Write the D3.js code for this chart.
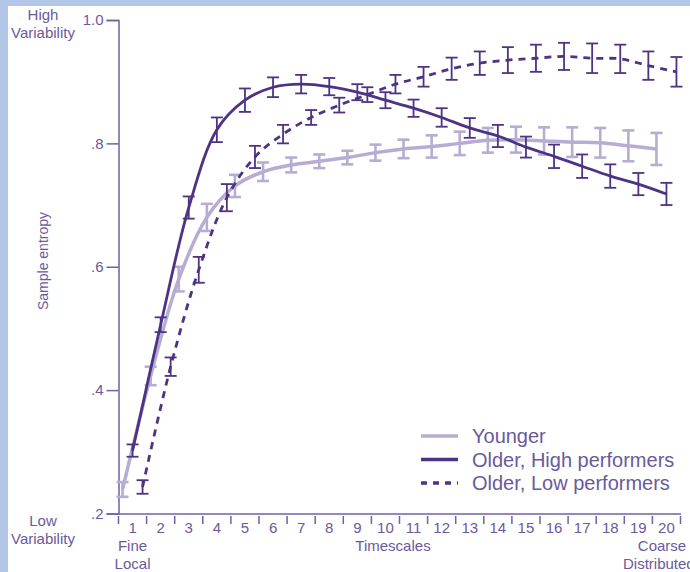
<!DOCTYPE html>
<html>
<head>
<meta charset="utf-8">
<script src="https://cdn.jsdelivr.net/npm/d3@7"></script>
<style>
  html, body { margin: 0; padding: 0; background: #fff; }
  svg { display: block; font-family: "Liberation Sans", Arial, sans-serif; }
</style>
</head>
<body>
<div id="chart"></div>
<script>
// timescales 1..20
const timescales = d3.range(1, 21);

// sample entropy
const younger = [0.239, 0.423, 0.580, 0.680, 0.731, 0.754, 0.765, 0.771, 0.777, 0.785,
                 0.791, 0.795, 0.800, 0.805, 0.806, 0.804, 0.802, 0.801, 0.796, 0.791];
const olderHigh = [0.302, 0.506, 0.696, 0.822, 0.870, 0.891, 0.896, 0.892, 0.883, 0.870,
                   0.857, 0.842, 0.825, 0.812, 0.794, 0.779, 0.763, 0.747, 0.734, 0.718];
const olderLow = [0.243, 0.438, 0.595, 0.712, 0.778, 0.815, 0.842, 0.862, 0.879, 0.896,
                  0.908, 0.921, 0.930, 0.935, 0.938, 0.941, 0.938, 0.937, 0.926, 0.916];

// half length of the error bars
const youngerErr = [0.012, 0.015, 0.020, 0.022, 0.018, 0.015, 0.012, 0.011, 0.011, 0.013,
                    0.015, 0.018, 0.019, 0.020, 0.021, 0.022, 0.024, 0.024, 0.025, 0.026];
const olderHighErr = [0.010, 0.012, 0.018, 0.020, 0.019, 0.016, 0.015, 0.014, 0.013, 0.013,
                      0.014, 0.015, 0.016, 0.018, 0.017, 0.019, 0.019, 0.019, 0.018, 0.018];
const olderLowErr = [0.011, 0.015, 0.021, 0.022, 0.018, 0.015, 0.012, 0.012, 0.012, 0.015,
                     0.016, 0.018, 0.019, 0.021, 0.022, 0.022, 0.024, 0.023, 0.023, 0.024];

const yTicks = [0.2, 0.4, 0.6, 0.8, 1.0];
const legendLabels = ['Younger', 'Older, High performers', 'Older, Low performers'];

const W = 690, H = 572;
const TEXT = '#6a5a9c';
const AXIS = '#7060a4';
const DARK = '#4e3384';
const LIGHT = '#b7acd2';

const series = [
  { name: legendLabels[0], values: younger, err: youngerErr, color: LIGHT, width: 3.5, dash: null, shift: -10 },
  { name: legendLabels[1], values: olderHigh, err: olderHighErr, color: DARK, width: 2.8, dash: null, shift: 0 },
  { name: legendLabels[2], values: olderLow, err: olderLowErr, color: DARK, width: 2.8, dash: '7,6', shift: 10 }
];

const svg = d3.select('#chart').append('svg')
  .attr('width', W).attr('height', H);

// page frame: pale blue strips at top and left
svg.append('rect').attr('width', W).attr('height', H).attr('fill', '#fff');
svg.append('rect').attr('width', W).attr('height', 6).attr('fill', '#b4c6e8');
svg.append('rect').attr('width', 8).attr('height', H).attr('fill', '#b4c6e8');

const x = d3.scaleBand().domain(timescales).range([118.5, 680.5]);
const y = d3.scaleLinear().domain([0.2, 1.0]).range([513.5, 20]);

// y axis
const yAxis = svg.append('g')
  .attr('transform', 'translate(118.5,0)')
  .call(d3.axisLeft(y).tickValues(yTicks).tickSize(12).tickPadding(3)
    .tickFormat(d => d === 1 ? '1.0' : d3.format('.1f')(d).replace(/^0/, '')));
yAxis.select('.domain').attr('stroke', AXIS).attr('stroke-width', 1.5);
yAxis.selectAll('.tick line').attr('stroke', AXIS).attr('stroke-width', 1.5);
yAxis.selectAll('.tick text').attr('fill', TEXT).style('font-size', '15px')
  .attr('font-family', '"Liberation Sans", Arial, sans-serif');

// x axis: labels centred in each band, ticks on the band edges
const xAxis = svg.append('g')
  .attr('transform', 'translate(0,513.5)')
  .call(d3.axisBottom(x).tickSize(0).tickPadding(9));
xAxis.select('.domain').attr('stroke', AXIS).attr('stroke-width', 1.5);
xAxis.selectAll('.tick text').attr('fill', TEXT).style('font-size', '15px')
  .attr('font-family', '"Liberation Sans", Arial, sans-serif');

const edges = timescales.map(d => x(d)).concat([x(20) + x.bandwidth()]);
svg.append('g').selectAll('line').data(edges).join('line')
  .attr('x1', d => d).attr('x2', d => d)
  .attr('y1', 516).attr('y2', 524)
  .attr('stroke', AXIS).attr('stroke-width', 1.5);

// axis captions
const caption = (txt, cx, cy, size, anchor = 'middle') =>
  svg.append('text').attr('x', cx).attr('y', cy).attr('text-anchor', anchor)
    .attr('fill', TEXT).style('font-size', size + 'px').text(txt);

caption('High', 43, 20, 15);
caption('Variability', 43, 38, 15);
caption('Low', 43, 526, 15);
caption('Variability', 43, 544, 15);
caption('Fine', x(1) + x.bandwidth() / 2, 551, 15);
caption('Local', x(1) + x.bandwidth() / 2, 569, 15);
caption('Timescales', 393, 551, 15);
caption('Coarse', 662, 551, 15);
caption('Distributed', 623, 569, 15, 'start');

svg.append('text')
  .attr('transform', 'translate(48,261) rotate(-90)')
  .attr('text-anchor', 'middle')
  .attr('fill', TEXT).style('font-size', '14px')
  .text('Sample entropy');

const px = (s, i) => x(timescales[i]) + x.bandwidth() / 2 + s.shift;

const line = (s) => d3.line()
  .x((d, i) => px(s, i))
  .y(d => y(d))
  .curve(d3.curveCatmullRom.alpha(0.5));

// draw in the picture's order: younger beneath
series.forEach(s => {
  const g = svg.append('g');
  g.append('path')
    .attr('d', line(s)(s.values))
    .attr('fill', 'none')
    .attr('stroke', s.color)
    .attr('stroke-width', s.width)
    .attr('stroke-dasharray', s.dash);

  const bars = g.selectAll('g.bar').data(s.values).join('g').attr('class', 'bar');
  const bw = s.color === LIGHT ? 2.6 : 1.8;
  bars.append('line')
    .attr('x1', (d, i) => px(s, i)).attr('x2', (d, i) => px(s, i))
    .attr('y1', (d, i) => y(d - s.err[i])).attr('y2', (d, i) => y(d + s.err[i]))
    .attr('stroke', s.color).attr('stroke-width', bw);
  [-1, 1].forEach(sign => {
    bars.append('line')
      .attr('x1', (d, i) => px(s, i) - 6).attr('x2', (d, i) => px(s, i) + 6)
      .attr('y1', (d, i) => y(d + sign * s.err[i])).attr('y2', (d, i) => y(d + sign * s.err[i]))
      .attr('stroke', s.color).attr('stroke-width', bw);
  });
});

// legend
const legend = svg.append('g').selectAll('g').data(series).join('g')
  .attr('transform', (d, i) => `translate(421,${436 + i * 23.5})`);
legend.append('line')
  .attr('x1', 0).attr('x2', 37)
  .attr('stroke', d => d.color)
  .attr('stroke-width', 3.5)
  .attr('stroke-dasharray', d => d.dash ? '6,6' : null);
legend.append('text')
  .attr('x', 51).attr('y', 7)
  .attr('fill', TEXT).style('font-size', '20px')
  .text(d => d.name);
</script>
</body>
</html>
